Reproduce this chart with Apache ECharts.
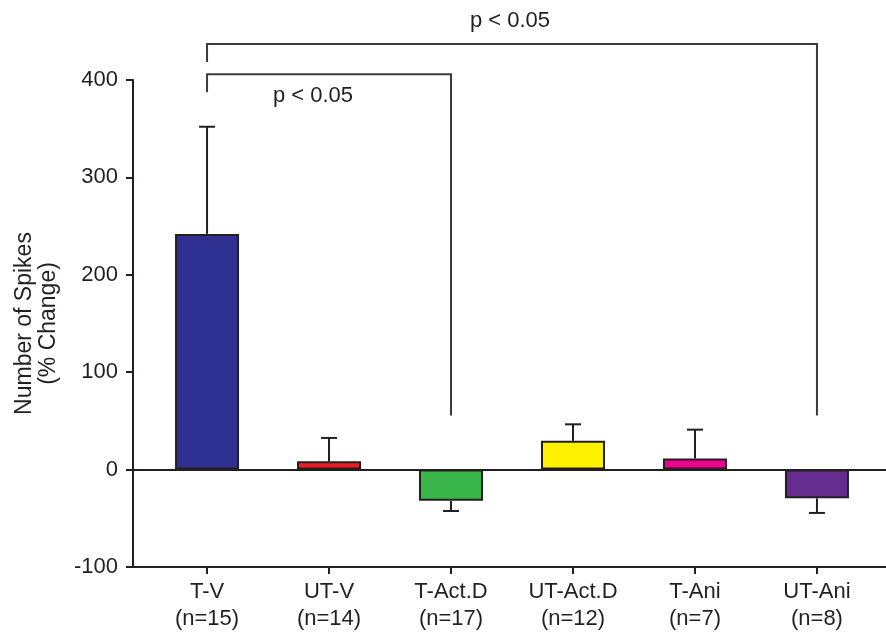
<!DOCTYPE html>
<html>
<head>
<meta charset="utf-8">
<script src="https://cdn.jsdelivr.net/npm/echarts@6/dist/echarts.min.js"></script>
<style>
html,body{margin:0;padding:0;background:#fff;}
#chart{width:886px;height:634px;}
</style>
</head>
<body>
<div id="chart"></div>
<script>
// ---- data ----
const categories = ['T-V', 'UT-V', 'T-Act.D', 'UT-Act.D', 'T-Ani', 'UT-Ani'];
const sampleSizes = ['(n=15)', '(n=14)', '(n=17)', '(n=12)', '(n=7)', '(n=8)'];
const meanChange = [242, 8.5, -32, 29.5, 11.5, -29.5];
const semChange = [110, 24, 10.5, 17, 29.5, 15];
const yTicks = [-100, 0, 100, 200, 300, 400];
const comparisonFrom = [0, 0];
const comparisonTo = [2, 5];
const comparisonLevel = [406, 437];
const comparisonLabel = ['p < 0.05', 'p < 0.05'];

// ---- styles ----
const barColors = ['#2e3192', '#ed1c24', '#39b54a', '#fff200', '#ec008c', '#662d91'];
const ink = '#231f20';
const font = '"Liberation Sans", Arial, Helvetica, sans-serif';
const legDrop = 18.5;     // length of left bracket leg (data units)
const legEnd = 55.5;      // level where right bracket legs stop

const chart = echarts.init(document.getElementById('chart'), null, {renderer: 'canvas'});
const idx = categories.map((c, i) => i);

const option = {
  animation: false,
  backgroundColor: '#ffffff',
  grid: {left: 133, right: 0, top: 80, bottom: 67, containLabel: false},
  xAxis: {
    type: 'value',
    min: -0.607,
    max: 5.566,
    splitLine: {show: false},
    axisLine: {show: true, onZero: false, lineStyle: {color: ink, width: 2}},
    axisTick: {show: true, customValues: idx, length: 7, lineStyle: {color: ink, width: 2}},
    axisLabel: {
      customValues: idx,
      formatter: v => categories[Math.round(v)] + '\n' + sampleSizes[Math.round(v)],
      fontSize: 22, lineHeight: 27, color: ink, fontFamily: font, margin: 11
    }
  },
  yAxis: {
    type: 'value',
    min: -100, max: 400, interval: 100,
    splitLine: {show: false},
    axisLine: {show: true, onZero: false, lineStyle: {color: ink, width: 2}},
    axisTick: {show: true, length: 7, lineStyle: {color: ink, width: 2}},
    axisLabel: {
      customValues: yTicks,
      fontSize: 22, color: ink, fontFamily: font, margin: 15
    },
    name: 'Number of Spikes\n(% Change)',
    nameLocation: 'middle',
    nameGap: 72,
    nameRotate: 90,
    nameTextStyle: {fontSize: 23, lineHeight: 24, color: ink, fontFamily: font}
  },
  series: [
    {
      type: 'bar',
      barWidth: 64,
      data: meanChange.map((v, i) => ({
        value: [i, v],
        itemStyle: {color: barColors[i], borderColor: ink, borderWidth: 2}
      })),
      markLine: {
        silent: true,
        symbol: ['none', 'none'],
        label: {show: false},
        lineStyle: {color: ink, width: 2, type: 'solid'},
        data: [{yAxis: 0}]
      },
      z: 2
    },
    {
      type: 'custom',
      z: 3,
      data: meanChange.map((v, i) => [i, v, v + (v >= 0 ? semChange[i] : -semChange[i])]),
      renderItem: function (params, api) {
        const p1 = api.coord([api.value(0), api.value(1)]);
        const p2 = api.coord([api.value(0), api.value(2)]);
        const cap = 8;
        return {
          type: 'group',
          children: [
            {type: 'line', shape: {x1: p1[0], y1: p1[1], x2: p2[0], y2: p2[1]}, style: {stroke: ink, lineWidth: 2}},
            {type: 'line', shape: {x1: p2[0] - cap, y1: p2[1], x2: p2[0] + cap, y2: p2[1]}, style: {stroke: ink, lineWidth: 2}}
          ]
        };
      }
    },
    {
      type: 'custom',
      z: 4,
      clip: false,
      data: comparisonFrom.map((f, i) => [f, comparisonTo[i], comparisonLevel[i], i]),
      renderItem: function (params, api) {
        const from = api.value(0), to = api.value(1), level = api.value(2), k = api.value(3);
        const a = api.coord([from, level - legDrop]);
        const b = api.coord([from, level]);
        const c = api.coord([to, level]);
        const d = api.coord([to, legEnd]);
        const inner = k === 0;
        return {
          type: 'group',
          children: [
            {type: 'polyline', shape: {points: [a, b, c, d]}, style: {stroke: '#3a3a3a', lineWidth: 2, fill: null}},
            {type: 'text', style: {
              text: comparisonLabel[k],
              x: inner ? (b[0] + c[0]) / 2 - 16 : (b[0] + c[0]) / 2 - 2,
              y: inner ? b[1] + 22 : b[1] - 23,
              align: 'center', verticalAlign: 'middle',
              font: '22px ' + font, fill: ink
            }}
          ]
        };
      }
    }
  ]
};
chart.setOption(option);
</script>
</body>
</html>
